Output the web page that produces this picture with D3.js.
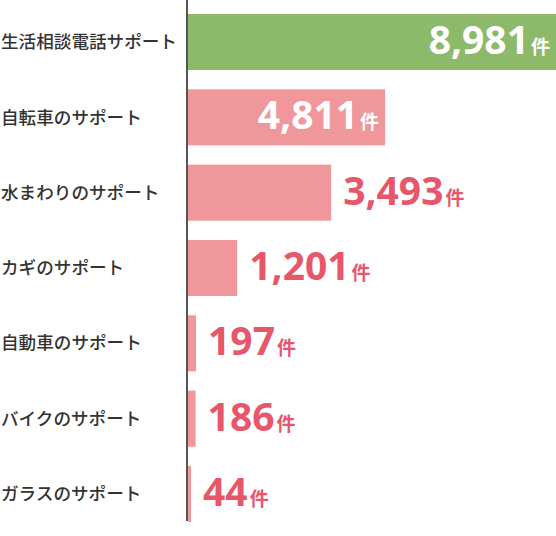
<!DOCTYPE html><html><head><meta charset="utf-8"><script src="https://cdn.jsdelivr.net/npm/d3@7"></script>
<style>body{margin:0;background:#fff}</style></head><body><svg id="c" width="556" height="536"></svg>
<script>
const categories=["生活相談電話サポート","自転車のサポート","水まわりのサポート","カギのサポート","自動車のサポート","バイクのサポート","ガラスのサポート"];
const values=[8981,4811,3493,1201,197,186,44];
const inside=[true,true,false,false,false,false,false];
const svg=d3.select("#c");
const x=d3.scaleLinear().domain([0,8981]).range([188,556]);
const y=d3.scaleBand().domain(categories).range([0,536]).paddingInner(0.256).paddingOuter(0.186);
const font="'Noto Sans CJK JP','Noto Sans',sans-serif";
svg.selectAll("rect").data(values).join("rect")
 .attr("x",x(0)).attr("y",(d,i)=>y(categories[i])).attr("height",y.bandwidth())
 .attr("width",d=>Math.max(x(d)-x(0),3)).attr("fill",(d,i)=>i==0?"#8db96b":"#f0979b");
svg.append("line").attr("x1",187).attr("x2",187).attr("y1",0).attr("y2",521).attr("stroke","#555").attr("stroke-width",2);
svg.selectAll("text.cat").data(categories).join("text").attr("class","cat")
 .attr("x",1).attr("y",d=>y(d)+y.bandwidth()/2).attr("dy","0.35em")
 .attr("font-family",font).attr("font-size",17.6).attr("font-weight",500).attr("fill","#333").text(d=>d);
const fmt=d3.format(",");
values.forEach((v,i)=>{
 const cy=y(categories[i])+y.bandwidth()/2;
 const t=svg.append("text").attr("y",cy+12).attr("font-weight","bold")
  .attr("fill",inside[i]?"#fff":"#e8566a");
 t.append("tspan").attr("font-family","'Noto Sans',sans-serif").attr("font-size",39).text(fmt(v));
 t.append("tspan").attr("font-family",font).attr("font-size",19).attr("dx",2).text("件");
 if(inside[i]) t.attr("x",x(v)-6).attr("text-anchor","end");
 else t.attr("x",Math.max(x(v),x(0)+3)+12);
});
</script></body></html>
